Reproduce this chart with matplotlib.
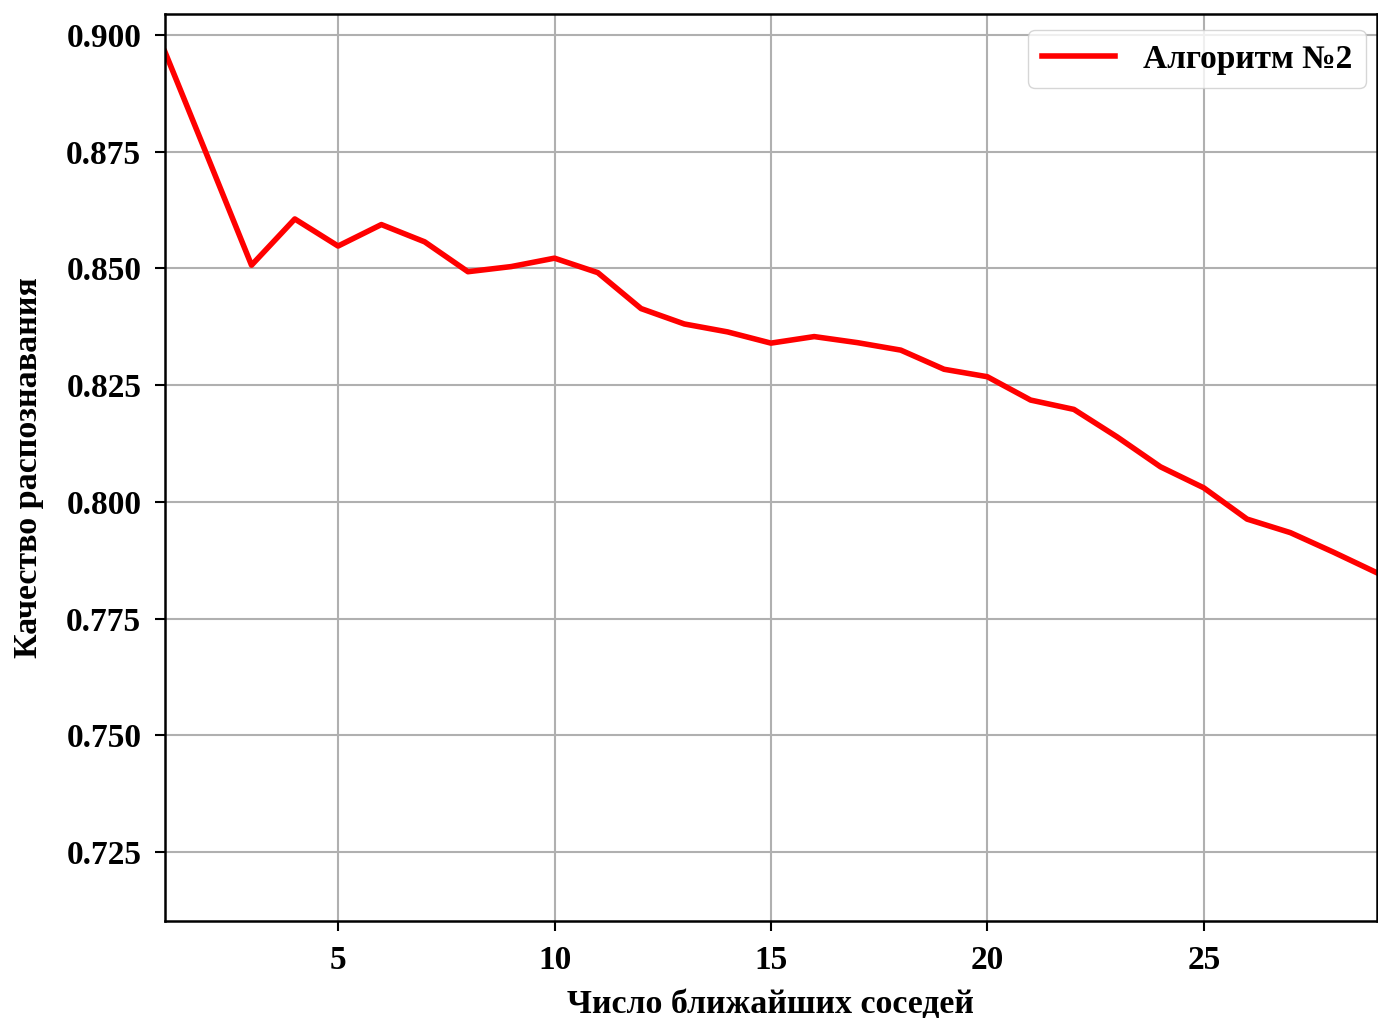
import matplotlib.pyplot as plt

# число соседей и качество распознавания
neighbors = list(range(1, 30))
quality = [0.8964, 0.8736, 0.8507, 0.8606, 0.8548, 0.8594, 0.8557, 0.8493,
           0.8504, 0.8522, 0.8491, 0.8414, 0.8381, 0.8364, 0.8340, 0.8354,
           0.8341, 0.8325, 0.8284, 0.8268, 0.8218, 0.8198, 0.8139, 0.8075,
           0.8030, 0.7963, 0.7934, 0.7892, 0.7848]
x_ticks = [5, 10, 15, 20, 25]
y_ticks = [0.725, 0.750, 0.775, 0.800, 0.825, 0.850, 0.875, 0.900]

plt.rcParams['font.family'] = ['Liberation Serif', 'DejaVu Serif']
plt.rcParams['font.weight'] = 'bold'

fig = plt.figure(figsize=(13.78, 10.18), dpi=100)
ax = fig.add_axes([0.1197, 0.0953, 0.8795, 0.8909])

ax.plot(neighbors, quality, color='red', linewidth=4, label='Алгоритм №2')

ax.set_xlim(1, 29)
ax.set_ylim(0.7102, 0.9045)
ax.set_xticks(x_ticks)
ax.set_yticks(y_ticks)
ax.set_yticklabels([f'{v:.3f}' for v in y_ticks])
ax.tick_params(labelsize=24, width=1.5, length=7, pad=10)
for lbl in ax.get_xticklabels() + ax.get_yticklabels():
    lbl.set_fontweight('bold')
ax.grid(True, color='#b0b0b0', linewidth=1.5)
for sp in ax.spines.values():
    sp.set_linewidth(1.8)

ax.set_xlabel('Число ближайших соседей', fontsize=24.5, fontweight='bold',
              labelpad=10)
ax.set_ylabel('Качество распознавания', fontsize=24.5, fontweight='bold',
              labelpad=16)

ax.legend(loc='upper right', bbox_to_anchor=(1.0, 0.994),
          prop={'size': 24, 'weight': 'bold'},
          handlelength=2.2, handletextpad=0.85, borderaxespad=0.33)

fig.savefig('out.png', dpi=100)
